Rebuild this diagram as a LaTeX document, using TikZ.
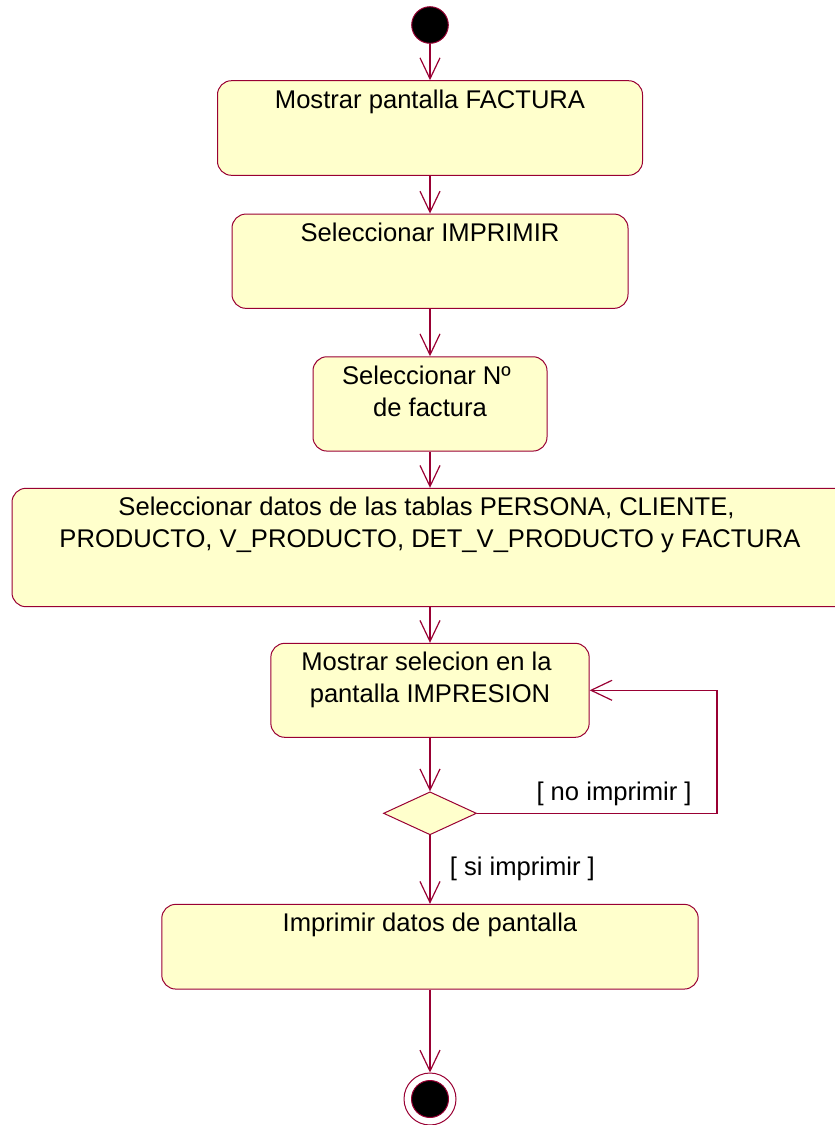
\documentclass[tikz,border=0pt]{standalone}
\usepackage{fontspec}
\setmainfont{Liberation Sans}
\usetikzlibrary{positioning, arrows.meta, shapes.geometric}
\definecolor{umlred}{RGB}{153, 0, 51}
\definecolor{umlfill}{RGB}{255, 255, 204}
\newcommand{\actbox}[3]{\parbox[c][#2pt][t]{#1pt}{\centering\rule{0pt}{27.5pt}#3}}

\begin{document}
\begin{tikzpicture}[
    x=1pt, y=-1pt,
    >={Straight Barb[length=21pt, width=20pt]},
    every node/.style={line width=1pt},
    action/.style={
        draw=umlred,
        fill=umlfill,
        rounded corners=14pt,
        inner sep=0pt,
        font=\fontsize{25.6}{32}\selectfont,
    },
    startnode/.style={
        draw=umlred,
        fill=black,
        circle,
        inner sep=0pt,
        minimum size=36.6pt,
    },
    endnode/.style={
        draw=umlred,
        circle,
        inner sep=0pt,
        minimum size=52pt,
        path picture={\fill[black, draw=umlred] (path picture bounding box.center) circle (18.5pt);},
    },
    choice/.style={
        draw=umlred,
        fill=umlfill,
        diamond,
        inner sep=0pt,
        minimum width=93pt,
        minimum height=43pt,
    },
    guard/.style={anchor=base west, font=\fontsize{25.6}{32}\selectfont},
    flow/.style={->, umlred, line width=1.2pt},
]

% -- Page frame
\clip (0,0) rectangle (835,1125);

% -- Start
\node[startnode] (start) at (430, 25) {};

% -- Actions
\node[action] (factura) at (430, 128) {\actbox{425}{94.6}{Mostrar pantalla FACTURA}};
\node[action] (imprimir) at (430, 261.2) {\actbox{396}{94.3}{Seleccionar IMPRIMIR}};
\node[action] (numero) at (430, 403.9) {\actbox{234}{94.3}{Seleccionar Nº\kern7pt\\ de factura}};
\node[action] (tablas) at (430, 547.5) {\actbox{836}{118.4}{Seleccionar datos de las tablas PERSONA, CLIENTE,\kern7pt\\ PRODUCTO, V\_PRODUCTO, DET\_V\_PRODUCTO y FACTURA}};
\node[action] (mostrar) at (430, 690.3) {\actbox{318.3}{94}{Mostrar selecion en la\kern7pt\\ pantalla IMPRESION}};

% -- Decision
\node[choice] (decision) at (430, 813.3) {};

% -- Last action
\node[action] (datos) at (430, 946.7) {\actbox{536.4}{84.7}{Imprimir datos de pantalla}};

% -- End
\node[endnode] (fin) at (430, 1099) {};

% -- Guards
\node[guard] (noguard) at (532.7, 800.7) {[ no imprimir ]};
\node[guard] (siguard) at (446, 875) {[ si imprimir ]};

% ===== Arrows =====
\draw[flow] (start) -- (factura);
\draw[flow] (factura) -- (imprimir);
\draw[flow] (imprimir) -- (numero);
\draw[flow] (numero) -- (tablas);
\draw[flow] (tablas) -- (mostrar);
\draw[flow] (mostrar) -- (decision);

% no imprimir: back to the screen
\draw[flow] (decision.east) -- ++(240,0) |- (mostrar.east);

% si imprimir
\draw[flow] (decision) -- (datos);
\draw[flow] (datos) -- (fin);

\end{tikzpicture}
\end{document}
